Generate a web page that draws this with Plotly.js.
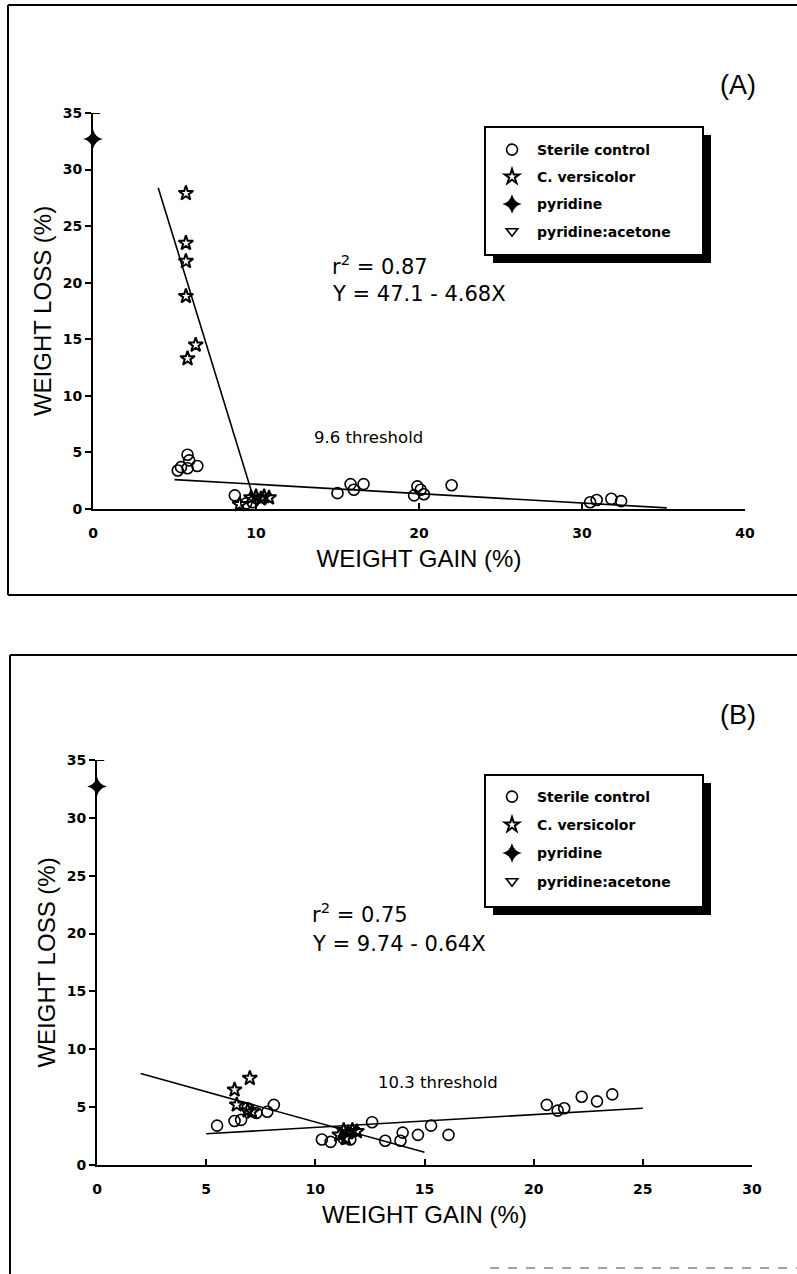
<!DOCTYPE html>
<html>
<head>
<meta charset="utf-8">
<script src="https://cdn.plot.ly/plotly-3.0.1.min.js"></script>
<style>
  html, body { margin: 0; padding: 0; background: #fff; }
  #chart { width: 797px; height: 1274px; }
</style>
</head>
<body>
<div id="chart"></div>
<script>
// ---- Panel A: weight loss vs weight gain ----
const gainA_sterile = [5.2, 5.4, 5.8, 5.9, 5.8, 6.4, 8.7, 9.4, 9.8, 15.0, 15.8, 16.0, 16.6, 19.7, 19.9, 20.1, 20.3, 22.0, 30.5, 30.9, 31.8, 32.4];
const lossA_sterile = [3.4, 3.7, 4.8, 4.3, 3.6, 3.8, 1.2, 0.5, 0.6, 1.4, 2.2, 1.7, 2.2, 1.2, 2.0, 1.7, 1.3, 2.1, 0.6, 0.8, 0.9, 0.7];
const gainA_versicolor = [5.7, 5.7, 5.7, 5.7, 6.3, 5.8, 9.0, 9.7, 10.0, 10.3, 10.5, 10.8];
const lossA_versicolor = [27.9, 23.5, 21.9, 18.8, 14.5, 13.3, 0.4, 1.0, 1.1, 0.9, 1.1, 1.0];
const gainA_pyridine = [0];
const lossA_pyridine = [32.7];
const gainA_acetone = [null];
const lossA_acetone = [null];
// fitted lines (end points)
const fitA_steep_x = [4.0, 9.8];
const fitA_steep_y = [28.4, 1.2];
const fitA_flat_x = [5.0, 35.2];
const fitA_flat_y = [2.6, 0.1];

// ---- Panel B ----
const gainB_sterile = [5.5, 6.3, 6.6, 6.9, 7.3, 7.8, 8.1, 10.3, 10.7, 11.3, 11.6, 12.6, 13.2, 13.9, 14.0, 14.7, 15.3, 16.1, 20.6, 21.1, 21.4, 22.2, 22.9, 23.6];
const lossB_sterile = [3.4, 3.8, 3.9, 4.9, 4.5, 4.6, 5.2, 2.2, 2.0, 2.3, 2.2, 3.7, 2.1, 2.1, 2.8, 2.6, 3.4, 2.6, 5.2, 4.7, 4.9, 5.9, 5.5, 6.1];
const gainB_versicolor = [6.3, 7.0, 6.4, 6.9, 7.1, 11.1, 11.3, 11.5, 11.7, 11.4, 11.9];
const lossB_versicolor = [6.5, 7.5, 5.2, 4.7, 4.6, 2.6, 3.0, 2.8, 3.0, 2.3, 2.9];
const gainB_pyridine = [0];
const lossB_pyridine = [32.7];
const gainB_acetone = [null];
const lossB_acetone = [null];
const fitB_down_x = [2.0, 15.0];
const fitB_down_y = [7.9, 1.1];
const fitB_up_x = [5.0, 25.0];
const fitB_up_y = [2.7, 4.9];

const seriesNames = ['Sterile control', 'C. versicolor', 'pyridine', 'pyridine:acetone'];
const yTicks = [0, 5, 10, 15, 20, 25, 30, 35];
const xTicksA = [0, 10, 20, 30, 40];
const xTicksB = [0, 5, 10, 15, 20, 25, 30];

const W = 797, H = 1274;
const px = v => v / W;          // canvas x pixel -> paper
const py = v => 1 - v / H;      // canvas y pixel -> paper

const markerSymbols = ['circle-open', 'star-open', 'star-diamond', 'triangle-down-open'];
const markerSizes = [11, 11, 14, 10];

function pointTraces(xs, ys, xa, ya, leg, tag) {
  return xs.map((x, i) => ({
    type: 'scatter', mode: 'markers', x: x, y: ys[i],
    xaxis: xa, yaxis: ya, legend: leg, legendgroup: tag + i,
    name: seriesNames[i], cliponaxis: false,
    marker: { symbol: markerSymbols[i], size: markerSizes[i], color: '#000',
              line: { color: '#000', width: i === 2 ? 0 : (i === 1 ? 2 : 1.6) } }
  }));
}
function lineTrace(x, y, xa, ya) {
  return { type: 'scatter', mode: 'lines', x: x, y: y, xaxis: xa, yaxis: ya,
           showlegend: false, hoverinfo: 'skip', cliponaxis: false,
           line: { color: '#000', width: 1.6 } };
}

const traces = [
  lineTrace(fitA_steep_x, fitA_steep_y, 'x', 'y'),
  lineTrace(fitA_flat_x, fitA_flat_y, 'x', 'y'),
  lineTrace(fitB_down_x, fitB_down_y, 'x2', 'y2'),
  lineTrace(fitB_up_x, fitB_up_y, 'x2', 'y2'),
  ...pointTraces([gainA_sterile, gainA_versicolor, gainA_pyridine, gainA_acetone],
                 [lossA_sterile, lossA_versicolor, lossA_pyridine, lossA_acetone], 'x', 'y', 'legend', 'a'),
  ...pointTraces([gainB_sterile, gainB_versicolor, gainB_pyridine, gainB_acetone],
                 [lossB_sterile, lossB_versicolor, lossB_pyridine, lossB_acetone], 'x2', 'y2', 'legend2', 'b')
];

const tickFont = { family: 'DejaVu Sans', size: 14, color: '#000', weight: 'bold' };
const titleFont = { family: 'Liberation Sans, Arial', size: 24, color: '#000' };
const textFont = { family: 'DejaVu Sans', size: 21, color: '#000' };
const smallFont = { family: 'DejaVu Sans', size: 16.5, color: '#000' };

function xAxis(dom, range, ticks, anchor) {
  return { domain: dom, range: range, anchor: anchor, tickvals: ticks,
           showline: true, linecolor: '#000', linewidth: 2, mirror: false,
           ticks: 'inside', ticklen: 6, tickwidth: 2, tickcolor: '#000',
           ticklabelstandoff: 10, tickfont: tickFont,
           showgrid: false, zeroline: false, fixedrange: true,
           title: { text: 'WEIGHT GAIN (%)', font: titleFont, standoff: 10 } };
}
function yAxis(dom, anchor) {
  return { domain: dom, range: [0, 35], anchor: anchor, tickvals: yTicks,
           showline: true, linecolor: '#000', linewidth: 2,
           ticks: 'outside', ticklen: 6, tickwidth: 2, tickcolor: '#000',
           tickfont: tickFont, showgrid: false, zeroline: false, fixedrange: true,
           title: { text: 'WEIGHT LOSS (%)', font: titleFont, standoff: 4 } };
}

// legend entries sit inside a drawn box with a heavy drop shadow
const legendStyle = (top, gap) => ({
  x: px(487), y: py(top), xanchor: 'left', yanchor: 'top',
  bgcolor: 'rgba(0,0,0,0)', borderwidth: 0,
  font: { family: 'DejaVu Sans', size: 14, color: '#000', weight: 'bold' },
  itemwidth: 40, tracegroupgap: gap, itemclick: false, itemdoubleclick: false
});
function legendBox(x0, y0, x1, y1) {
  return [
    { type: 'rect', xref: 'paper', yref: 'paper', layer: 'above',
      x0: px(x0 + 8), x1: px(x1 + 8), y0: py(y1 + 8), y1: py(y0 + 8),
      fillcolor: '#000', line: { width: 0 } },
    { type: 'rect', xref: 'paper', yref: 'paper', layer: 'above',
      x0: px(x0), x1: px(x1), y0: py(y1), y1: py(y0),
      fillcolor: '#fff', line: { color: '#000', width: 2 } }
  ];
}

const frame = { type: 'line', xref: 'paper', yref: 'paper', line: { color: '#000', width: 2 } };
const shapes = [
  // outer frame of panel A
  { ...frame, x0: px(8), x1: px(797), y0: py(5), y1: py(5) },
  { ...frame, x0: px(8), x1: px(797), y0: py(595), y1: py(595) },
  { ...frame, x0: px(8), x1: px(8), y0: py(5), y1: py(595) },
  // outer frame of panel B
  { ...frame, x0: px(10), x1: px(797), y0: py(655), y1: py(655) },
  { ...frame, x0: px(10), x1: px(10), y0: py(655), y1: py(1274) },
  { ...frame, x0: px(490), x1: px(797), y0: py(1268), y1: py(1268), line: { color: '#444', width: 1.2, dash: 'dash' } },
  // small cap at the top of each y axis
  { type: 'line', xref: 'x domain', yref: 'y', x0: 0, x1: 0.011, y0: 35, y1: 35, line: { color: '#000', width: 2 } },
  { type: 'line', xref: 'x2 domain', yref: 'y2', x0: 0, x1: 0.011, y0: 35, y1: 35, line: { color: '#000', width: 2 } },
  ...legendBox(485, 127, 703, 255),
  ...legendBox(485, 775, 703, 907)
];

const note = (text, x, y, font, anchor) => ({
  text: text, xref: 'paper', yref: 'paper', x: px(x), y: py(y),
  xanchor: anchor || 'left', yanchor: 'middle', showarrow: false, font: font
});

const panelFont = { family: 'Liberation Sans, Arial', size: 27, color: '#000' };
const annotations = [
  note('(A)', 738, 85, panelFont, 'center'),
  note('r<sup>2</sup> = 0.87', 330, 265, textFont),
  note('Y = 47.1 - 4.68X', 330, 294, textFont),
  note('9.6 threshold', 312, 437, smallFont),
  note('(B)', 738, 715, panelFont, 'center'),
  note('r<sup>2</sup> = 0.75', 310, 913, textFont),
  note('Y = 9.74 - 0.64X', 310, 944, textFont),
  note('10.3 threshold', 376, 1082, smallFont)
];

const layout = {
  width: W, height: H,
  margin: { l: 0, r: 0, t: 0, b: 0 },
  paper_bgcolor: '#fff', plot_bgcolor: 'rgba(0,0,0,0)',
  showlegend: true,
  xaxis: xAxis([px(93), px(745)], [0, 40], xTicksA, 'y'),
  yaxis: yAxis([py(509), py(113)], 'x'),
  xaxis2: xAxis([px(97), px(752)], [0, 30], xTicksB, 'y2'),
  yaxis2: yAxis([py(1165), py(760)], 'x2'),
  legend: legendStyle(134, 6),
  legend2: legendStyle(781, 7),
  shapes: shapes,
  annotations: annotations
};

Plotly.newPlot('chart', traces, layout, { displayModeBar: false, staticPlot: true });
</script>
</body>
</html>
